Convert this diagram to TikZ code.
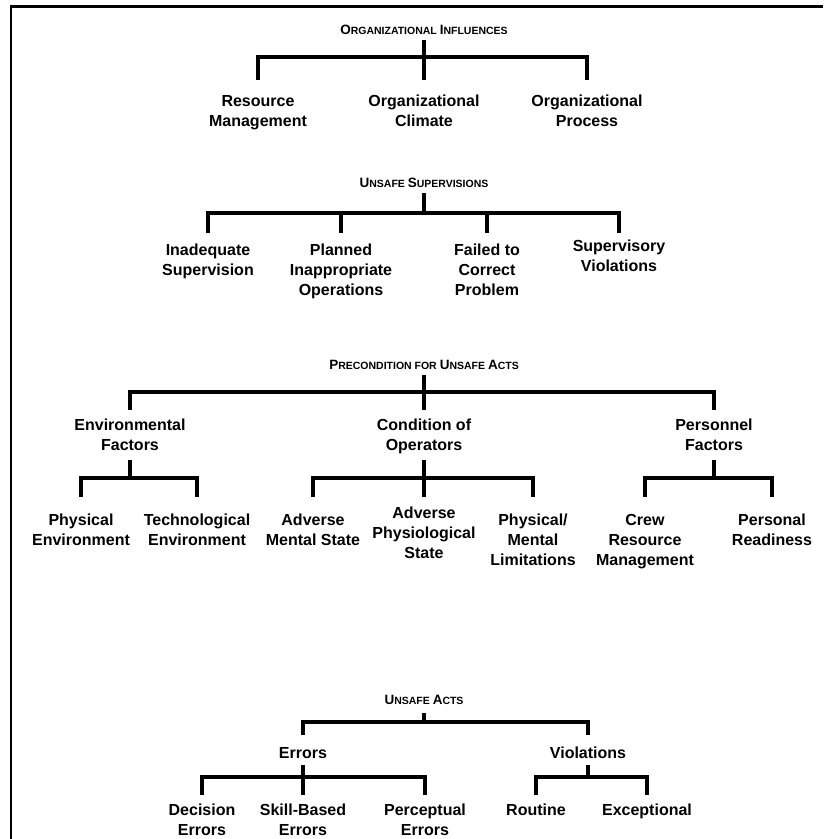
\documentclass[tikz,border=0pt]{standalone}
\usepackage{fontspec}
\setmainfont{Liberation Sans}
\newcommand{\BL}[1]{{\fontsize{13.5}{14}\selectfont #1}}
\begin{document}
\begin{tikzpicture}[x=1pt,y=-1pt,
  lbl/.style={font=\bfseries\fontsize{16}{20}\selectfont, align=center, inner sep=0pt, anchor=north},
  ttl/.style={font=\bfseries\fontsize{10.5}{12}\selectfont, inner sep=0pt},
  conn/.style={line width=4pt, line cap=butt, line join=miter}]
\useasboundingbox (0,0) rectangle (823,839);
\draw[line width=2.5pt, line join=miter] (11,839) -- (11,6.5) -- (823,6.5);

% ---- Organizational influences
\node[ttl] (oi) at (424,30) {\BL{O}RGANIZATIONAL \BL{I}NFLUENCES};
\node[lbl] (rm) at (258,95) {Resource\\Management};
\node[lbl] (oc) at (424,95) {Organizational\\Climate};
\node[lbl] (op) at (587,95) {Organizational\\Process};
\coordinate (s1) at (0,40); \coordinate (b1) at (0,57); \coordinate (e1) at (0,80);
\draw[conn] (oi |- s1) -- (oi |- e1);
\draw[conn] (rm |- e1) -- (rm |- b1) -- (op |- b1) -- (op |- e1);

% ---- Unsafe supervisions
\node[ttl] (us) at (424,183) {\BL{U}NSAFE \BL{S}UPERVISIONS};
\node[lbl] (is) at (208,244) {Inadequate\\Supervision};
\node[lbl] (pi) at (341,244) {Planned\\Inappropriate\\Operations};
\node[lbl] (fc) at (487,244) {Failed to\\Correct\\Problem};
\node[lbl] (sv) at (619,240) {Supervisory\\Violations};
\coordinate (s2) at (0,193); \coordinate (b2) at (0,213); \coordinate (e2) at (0,233);
\draw[conn] (us |- s2) -- (us |- b2);
\draw[conn] (is |- e2) -- (is |- b2) -- (sv |- b2) -- (sv |- e2);
\draw[conn] (pi |- b2) -- (pi |- e2);
\draw[conn] (fc |- b2) -- (fc |- e2);

% ---- Preconditions
\node[ttl] (pc) at (424,365) {\BL{P}RECONDITION FOR \BL{U}NSAFE \BL{A}CTS};
\node[lbl] (ef) at (130,419) {Environmental\\Factors};
\node[lbl] (co) at (424,419) {Condition of\\Operators};
\node[lbl] (pf) at (714,419) {Personnel\\Factors};
\coordinate (s3) at (0,375); \coordinate (b3) at (0,392); \coordinate (e3) at (0,410);
\draw[conn] (pc |- s3) -- (pc |- e3);
\draw[conn] (ef |- e3) -- (ef |- b3) -- (pf |- b3) -- (pf |- e3);

\node[lbl] (pe) at (81,514) {Physical\\Environment};
\node[lbl] (te) at (197,514) {Technological\\Environment};
\node[lbl] (am) at (313,514) {Adverse\\Mental State};
\node[lbl] (ap) at (424,507) {Adverse\\Physiological\\State};
\node[lbl] (pm) at (533,514) {Physical/\\Mental\\Limitations};
\node[lbl] (cr) at (645,514) {Crew\\Resource\\Management};
\node[lbl] (pr) at (772,514) {Personal\\Readiness};
\coordinate (s4) at (0,460); \coordinate (b4) at (0,478); \coordinate (e4) at (0,497);
\draw[conn] (ef |- s4) -- (ef |- b4);
\draw[conn] (pe |- e4) -- (pe |- b4) -- (te |- b4) -- (te |- e4);
\draw[conn] (co |- s4) -- (co |- e4);
\draw[conn] (am |- e4) -- (am |- b4) -- (pm |- b4) -- (pm |- e4);
\draw[conn] (pf |- s4) -- (pf |- b4);
\draw[conn] (cr |- e4) -- (cr |- b4) -- (pr |- b4) -- (pr |- e4);

% ---- Unsafe acts
\node[ttl] (ua) at (424,700) {\BL{U}NSAFE \BL{A}CTS};
\node[lbl] (er) at (303,747) {Errors};
\node[lbl] (vi) at (588,747) {Violations};
\coordinate (s5) at (0,713); \coordinate (b5) at (0,722); \coordinate (e5) at (0,735);
\draw[conn] (ua |- s5) -- (ua |- b5);
\draw[conn] (er |- e5) -- (er |- b5) -- (vi |- b5) -- (vi |- e5);

\node[lbl] (de) at (202,804) {Decision\\Errors};
\node[lbl] (sb) at (303,804) {Skill-Based\\Errors};
\node[lbl] (pp) at (425,804) {Perceptual\\Errors};
\node[lbl] (ro) at (536,804) {Routine};
\node[lbl] (ex) at (647,804) {Exceptional};
\coordinate (s6) at (0,765); \coordinate (b6) at (0,777); \coordinate (e6) at (0,795);
\draw[conn] (er |- s6) -- (er |- e6);
\draw[conn] (de |- e6) -- (de |- b6) -- (pp |- b6) -- (pp |- e6);
\draw[conn] (vi |- s6) -- (vi |- b6);
\draw[conn] (ro |- e6) -- (ro |- b6) -- (ex |- b6) -- (ex |- e6);
\end{tikzpicture}
\end{document}
